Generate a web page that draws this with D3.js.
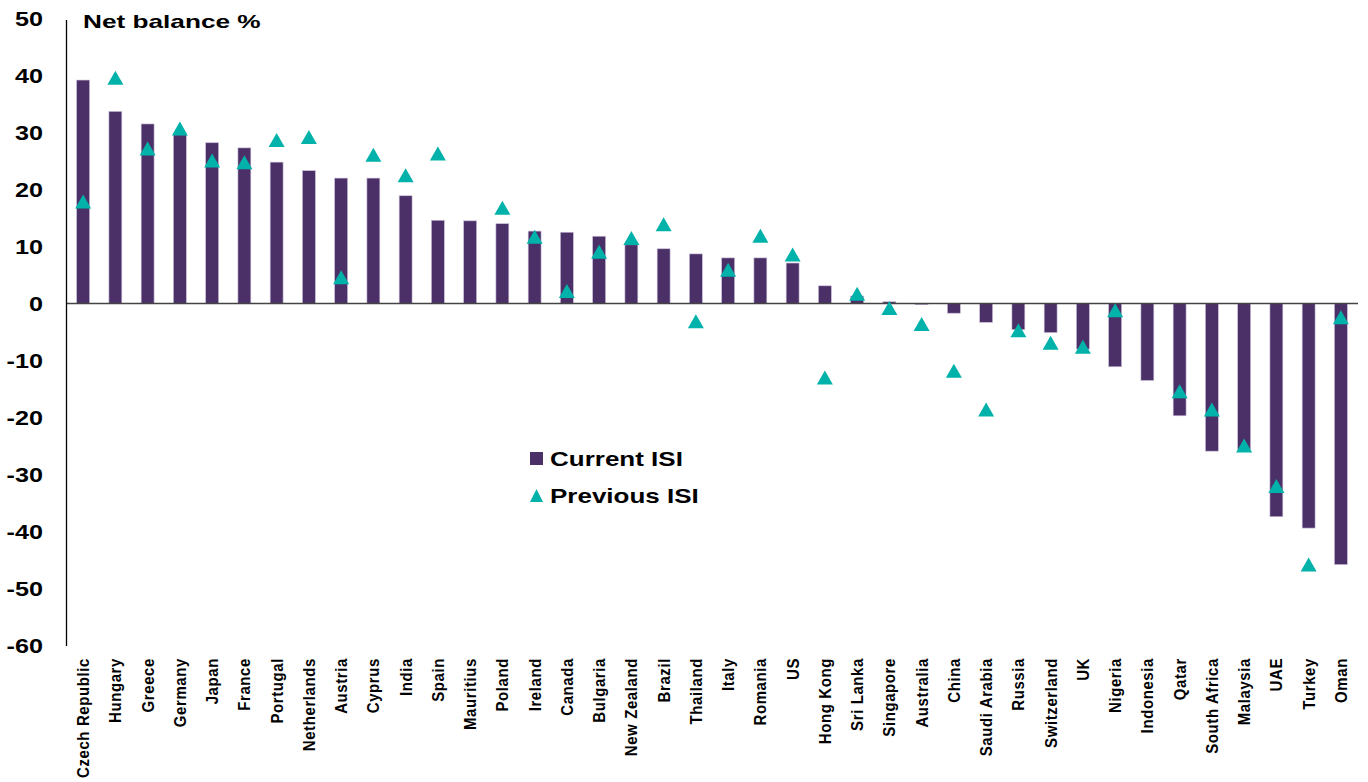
<!DOCTYPE html>
<html>

<head>
  <meta charset="utf-8" />
  <title>ISI net balance</title>
  <style>
    body {
      margin: 0;
      background: #fff;
      font-family: "Liberation Sans", Arial, sans-serif;
    }

    text {
      font-weight: bold;
      fill: #000;
    }
  </style>
  <script src="https://cdnjs.cloudflare.com/ajax/libs/d3/7.8.5/d3.min.js"></script>
</head>

<body>
  <div id="chartArea"></div>
  <script>
    var countries = ['Czech Republic', 'Hungary', 'Greece', 'Germany', 'Japan', 'France', 'Portugal',
      'Netherlands', 'Austria', 'Cyprus', 'India', 'Spain', 'Mauritius', 'Poland', 'Ireland', 'Canada',
      'Bulgaria', 'New Zealand', 'Brazil', 'Thailand', 'Italy', 'Romania', 'US', 'Hong Kong', 'Sri Lanka',
      'Singapore', 'Australia', 'China', 'Saudi Arabia', 'Russia', 'Switzerland', 'UK', 'Nigeria',
      'Indonesia', 'Qatar', 'South Africa', 'Malaysia', 'UAE', 'Turkey', 'Oman'];

    var currentISI = [39.2, 33.7, 31.5, 29.6, 28.2, 27.3, 24.8, 23.3, 22.0, 22.0, 18.9, 14.6, 14.5, 14.0,
      12.7, 12.5, 11.8, 10.3, 9.6, 8.7, 8.0, 8.0, 7.1, 3.1, 1.3, 0.3, -0.2, -1.7, -3.3, -4.6, -5.1, -8.0,
      -11.1, -13.5, -19.7, -25.9, -25.6, -37.4, -39.4, -45.8];

    // null where there is no previous reading
    var previousISI = [17.9, 39.6, 27.2, 30.7, 25.1, 24.8, 28.7, 29.2, 4.6, 26.1, 22.5, 26.3, null, 16.8,
      11.7, 2.2, 9.1, 11.5, 13.9, -3.1, 5.9, 11.9, 8.6, -13.0, 1.7, -0.8, -3.6, -11.8, -18.6, -4.7, -6.9,
      -7.6, -1.2, null, -15.4, -18.6, -24.9, -32.0, -45.8, -2.4];

    var yTicks = [50, 40, 30, 20, 10, 0, -10, -20, -30, -40, -50, -60];

    var W = 1368, H = 782;
    var barColor = '#4b3068', triColor = '#00b2a9';

    var svg = d3.select('#chartArea')
      .append('svg')
      .attr('width', W)
      .attr('height', H);

    var x = d3.scaleBand()
      .domain(countries)
      .range([67, 1357])
      .paddingInner(0.6)
      .paddingOuter(0.3);

    var y = d3.scaleLinear()
      .domain([-60, 50])
      .range([645.5, 18.5]);

    // bars
    svg.append('g')
      .selectAll('rect')
      .data(countries)
      .join('rect')
      .attr('x', d => x(d))
      .attr('width', x.bandwidth())
      .attr('y', (d, i) => y(Math.max(0, currentISI[i])))
      .attr('height', (d, i) => Math.abs(y(currentISI[i]) - y(0)))
      .attr('fill', barColor)
      .attr('stroke', '#c8bcd6')
      .attr('stroke-width', 0.6);

    // zero line
    svg.append('line')
      .attr('x1', 67).attr('x2', 1358)
      .attr('y1', y(0)).attr('y2', y(0))
      .attr('stroke', '#444')
      .attr('stroke-width', 1.5);

    // y axis line
    svg.append('line')
      .attr('x1', 66.5).attr('x2', 66.5)
      .attr('y1', 20).attr('y2', 646)
      .attr('stroke', '#000')
      .attr('stroke-width', 1.3);

    // triangles
    var tri = 'M0,-7 L8,7 L-8,7 Z';
    svg.append('g')
      .selectAll('path')
      .data(countries.filter((d, i) => previousISI[i] !== null))
      .join('path')
      .attr('d', tri)
      .attr('transform', d => 'translate(' + (x(d) + x.bandwidth() / 2) + ',' +
        y(previousISI[countries.indexOf(d)]) + ')')
      .attr('fill', triColor);

    // y tick labels (source text is a little wide, hence the scale)
    svg.append('g')
      .selectAll('text')
      .data(yTicks)
      .join('text')
      .attr('transform', d => 'translate(43,' + y(d) + ') scale(1.26,1)')
      .attr('dy', '0.36em')
      .attr('text-anchor', 'end')
      .style('font-size', '20px')
      .text(d => d);

    // x labels
    svg.append('g')
      .selectAll('text')
      .data(countries)
      .join('text')
      .attr('transform', d => 'translate(' + (x(d) + x.bandwidth() / 2 + 6) + ',658) rotate(-90) scale(1,1.15)')
      .attr('text-anchor', 'end')
      .style('font-size', '15px')
      .style('letter-spacing', '0.6px')
      .text(d => d);

    // title
    svg.append('text')
      .attr('transform', 'translate(83,28) scale(1.38,1)')
      .style('font-size', '19px')
      .text('Net balance %');

    // legend
    var lg = svg.append('g');
    lg.append('rect')
      .attr('x', 530).attr('y', 452)
      .attr('width', 13).attr('height', 13)
      .attr('fill', barColor);
    lg.append('text')
      .attr('transform', 'translate(550,466) scale(1.3,1)')
      .style('font-size', '20px')
      .text('Current ISI');
    lg.append('path')
      .attr('d', 'M0,-6.5 L6.5,6.5 L-6.5,6.5 Z')
      .attr('transform', 'translate(536.5,495.5)')
      .attr('fill', triColor);
    lg.append('text')
      .attr('transform', 'translate(550,503) scale(1.3,1)')
      .style('font-size', '20px')
      .text('Previous ISI');
  </script>
</body>

</html>
